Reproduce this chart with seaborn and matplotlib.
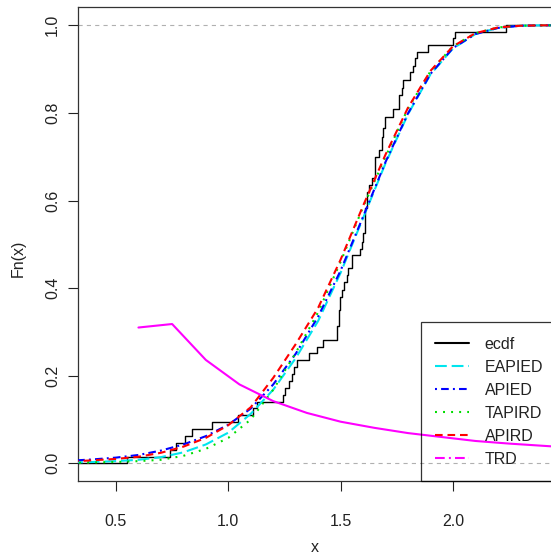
import numpy as np
import pandas as pd
import matplotlib
matplotlib.use("Agg")
import matplotlib.pyplot as plt
from matplotlib.lines import Line2D
import seaborn as sns

# ---------------- data ----------------
# empirical CDF: jump locations and level after each jump
ecdf_x = [0.550, 0.739, 0.768, 0.806, 0.840, 0.927, 1.043, 1.109, 1.129, 1.242,
          1.252, 1.272, 1.282, 1.293, 1.305, 1.361, 1.394, 1.423, 1.483, 1.491,
          1.497, 1.505, 1.515, 1.527, 1.534, 1.549, 1.586, 1.594, 1.601, 1.608,
          1.619, 1.628, 1.640, 1.653, 1.672, 1.683, 1.690, 1.698, 1.732, 1.761,
          1.772, 1.777, 1.809, 1.821, 1.831, 1.839, 1.891, 2.002, 2.009, 2.236]
ecdf_F = [0.015, 0.030, 0.047, 0.063, 0.079, 0.095, 0.110, 0.126, 0.141, 0.157,
          0.172, 0.188, 0.204, 0.219, 0.235, 0.251, 0.266, 0.282, 0.313, 0.350,
          0.380, 0.396, 0.415, 0.430, 0.445, 0.476, 0.490, 0.506, 0.525, 0.582,
          0.620, 0.635, 0.651, 0.700, 0.715, 0.746, 0.765, 0.791, 0.810, 0.840,
          0.856, 0.875, 0.894, 0.907, 0.925, 0.940, 0.955, 0.970, 0.985, 1.000]

grid_x = [0.3, 0.4, 0.5, 0.6, 0.7, 0.8, 0.9, 1.0, 1.1, 1.2, 1.3, 1.4, 1.5,
          1.6, 1.7, 1.8, 1.9, 2.0, 2.1, 2.2, 2.3, 2.4, 2.5]
eapied = [0.002, 0.003, 0.005, 0.008, 0.014, 0.025, 0.043, 0.070, 0.113, 0.168,
          0.240, 0.325, 0.435, 0.560, 0.685, 0.797, 0.888, 0.947, 0.980, 0.994,
          0.999, 1.000, 1.000]
apied = [0.006, 0.009, 0.013, 0.019, 0.029, 0.043, 0.062, 0.088, 0.125, 0.180,
         0.250, 0.335, 0.440, 0.563, 0.688, 0.799, 0.889, 0.948, 0.980, 0.994,
         0.999, 1.000, 1.000]
tapird = [0.001, 0.002, 0.003, 0.005, 0.008, 0.017, 0.033, 0.058, 0.100, 0.168,
          0.252, 0.345, 0.460, 0.585, 0.700, 0.810, 0.895, 0.952, 0.982, 0.995,
          0.999, 1.000, 1.000]
apird = [0.004, 0.007, 0.010, 0.015, 0.024, 0.038, 0.058, 0.087, 0.128, 0.195,
         0.272, 0.355, 0.465, 0.588, 0.705, 0.812, 0.896, 0.952, 0.982, 0.995,
         0.999, 1.000, 1.000]

trd_x = [0.60, 0.75, 0.90, 1.05, 1.20, 1.35, 1.50, 1.65, 1.80, 1.95, 2.10, 2.25, 2.40, 2.55]
trd_y = [0.310, 0.318, 0.236, 0.180, 0.142, 0.115, 0.095, 0.081, 0.069, 0.060,
         0.051, 0.045, 0.040, 0.035]

legend_labels = ["ecdf", "EAPIED", "APIED", "TAPIRD", "APIRD", "TRD"]

# ---------------- styling ----------------
sns.set_style("white")
plt.rcParams["font.family"] = ["Liberation Sans", "DejaVu Sans"]
plt.rcParams["lines.scale_dashes"] = False

W, H = 551, 560
fig = plt.figure(figsize=(W / 100, H / 100), dpi=100)
ax_l, ax_r, ax_t, ax_b = 78, 552, 7, 481
ax = fig.add_axes([ax_l / W, 1 - ax_b / H, (ax_r - ax_l) / W, (ax_b - ax_t) / H])
AXW = ax_r - ax_l

FS = 11.5
styles = {
    "EAPIED": dict(color="#00E5EE", ls=(0, (8.5, 3.5))),
    "APIED": dict(color="#0000FF", ls=(0, (1.4, 3.0, 5.5, 3.0))),
    "TAPIRD": dict(color="#00DD00", ls=(0, (1.4, 4.4))),
    "APIRD": dict(color="#FF0000", ls=(0, (5.5, 3.5))),
    "TRD": dict(color="#FF00FF", ls=(0, (7.0, 3.0, 1.4, 3.0))),
}
LW = 1.5

# reference lines
for yv in (0, 1):
    ax.axhline(yv, color="#B0B0B0", lw=0.8, ls=(0, (3, 3)), zorder=1)

# ecdf step function (extended to the plot edges as R does)
ex = [0.0] + ecdf_x + [3.0]
ey = [0.0] + ecdf_F + [1.0]
sns.lineplot(x=ex, y=ey, ax=ax, color="black", lw=1.0, drawstyle="steps-post",
             estimator=None, sort=False, zorder=3)

curves = [("EAPIED", eapied), ("APIED", apied), ("TAPIRD", tapird), ("APIRD", apird)]
for name, vals in curves:
    st = styles[name]
    sns.lineplot(x=grid_x, y=vals, ax=ax, color=st["color"], lw=LW,
                 linestyle=st["ls"], estimator=None, sort=False, zorder=4)

sns.lineplot(x=trd_x, y=trd_y, ax=ax, color=styles["TRD"]["color"], lw=LW,
             estimator=None, sort=False, zorder=5)

ax.set_xlim(0.331, 2.441)
ax.set_ylim(-0.0404, 1.0418)
ax.set_xticks([0.5, 1.0, 1.5, 2.0])
ax.set_xticklabels(["0.5", "1.0", "1.5", "2.0"])
ax.set_yticks([0.0, 0.2, 0.4, 0.6, 0.8, 1.0])
ax.set_yticklabels(["0.0", "0.2", "0.4", "0.6", "0.8", "1.0"], rotation=90, va="center")

ax.tick_params(axis="both", direction="out", length=7, width=0.8, color="#222222",
               labelsize=FS, labelcolor="#222222", bottom=True, left=True)
ax.tick_params(axis="x", pad=17)
ax.tick_params(axis="y", pad=6)
for s in ax.spines.values():
    s.set_visible(True)
    s.set_color("#333333")
    s.set_linewidth(0.9)

ax.set_xlabel("x", fontsize=FS, color="#222222")
ax.set_ylabel("Fn(x)", fontsize=FS, color="#222222")
ax.xaxis.set_label_coords(0.5, -0.15)
ax.xaxis.label.set_va("baseline")
ax.yaxis.set_label_coords(-0.127, 0.47)
ax.yaxis.label.set_va("center")

# legend
handles = [Line2D([], [], color="black", lw=1.5)]
for name in legend_labels[1:]:
    st = styles[name]
    handles.append(Line2D([], [], color=st["color"], lw=LW, ls=st["ls"]))
leg = ax.legend(handles, legend_labels, loc="lower right",
                bbox_to_anchor=(1 + 5.4 / AXW, 0),
                borderaxespad=0, frameon=True, fancybox=False, fontsize=FS,
                handlelength=2.1, handletextpad=1.0, labelspacing=0.5, borderpad=0.9)
leg.get_frame().set_edgecolor("black")
leg.get_frame().set_facecolor("none")
leg.get_frame().set_linewidth(0.9)
for t in leg.get_texts():
    t.set_color("#222222")

fig.savefig("out.png", dpi=100)
